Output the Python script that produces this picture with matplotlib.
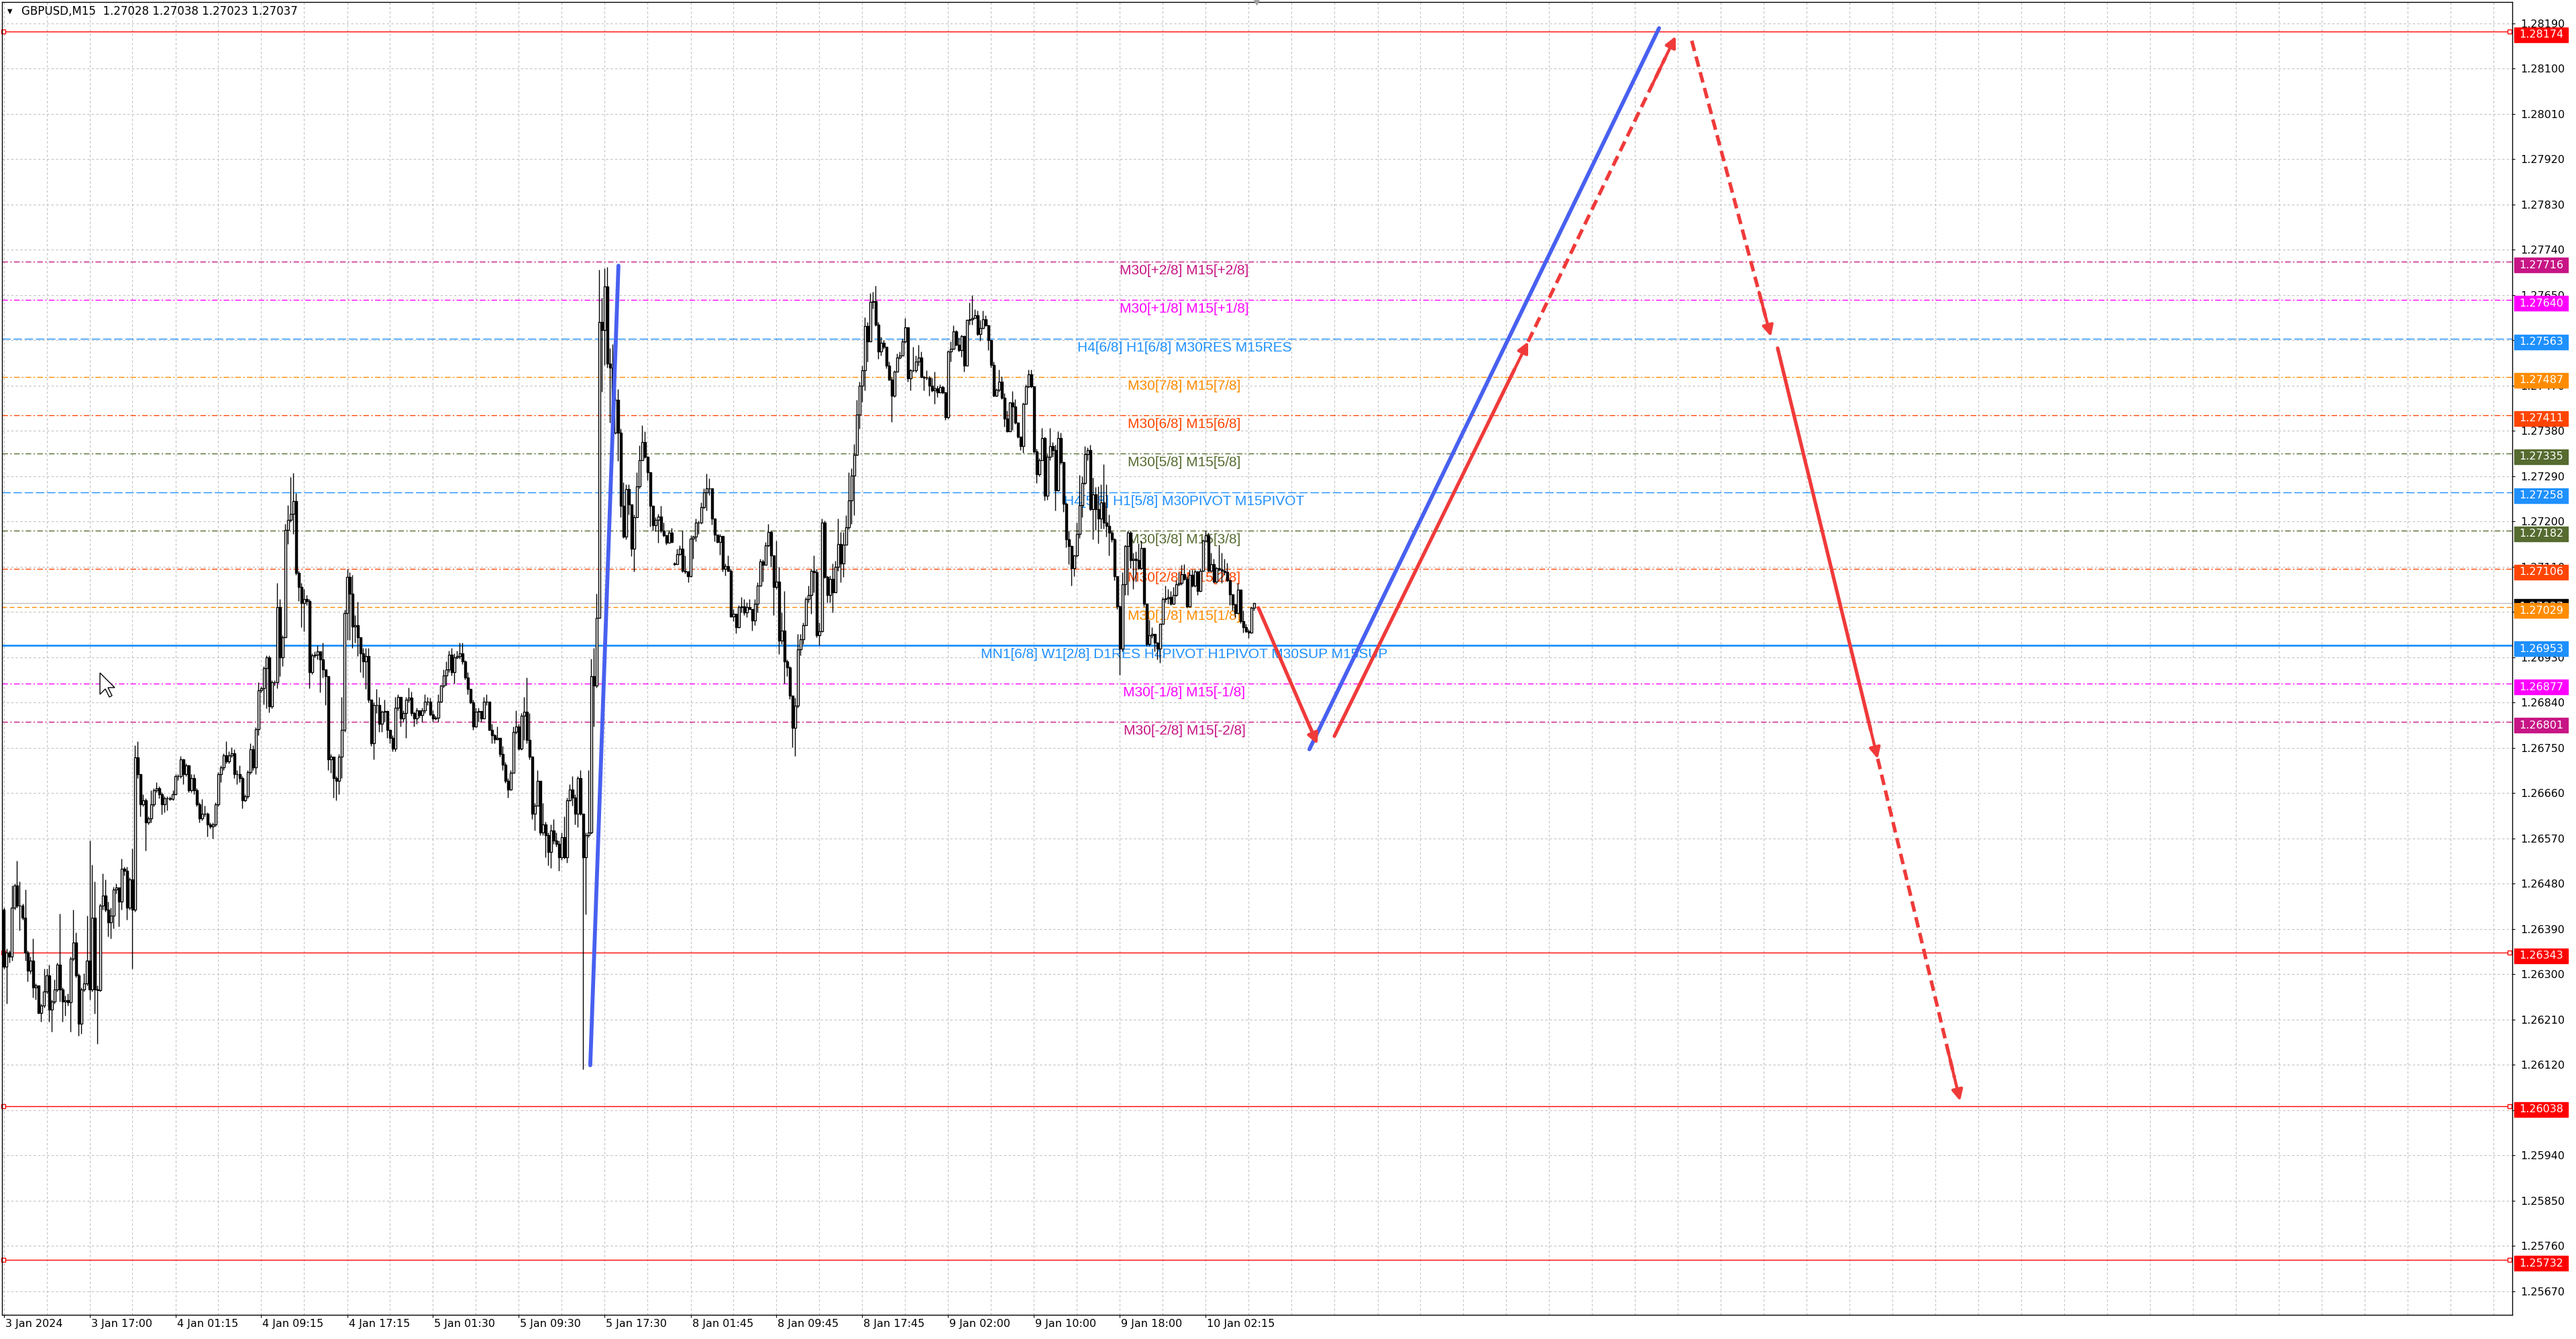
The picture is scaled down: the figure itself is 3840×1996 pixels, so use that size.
import numpy as np
import matplotlib
matplotlib.use('Agg')
import matplotlib.pyplot as plt
from matplotlib.path import Path
from matplotlib.patches import Polygon
from matplotlib.transforms import offset_copy, ScaledTranslation

# ---- GBPUSD M15 candles (bar 0 = 3 Jan 09:00), prices ----
closes = [
    1.26315, 1.26343, 1.26335, 1.26432, 1.26476, 1.26436, 1.26436, 1.26412, 1.26343, 1.26307,
    1.26327, 1.26274, 1.26277, 1.26223, 1.26238, 1.26266, 1.26298, 1.26230, 1.26246, 1.26270,
    1.26319, 1.26270, 1.26246, 1.26248, 1.26244, 1.26331, 1.26363, 1.26298, 1.26201, 1.26270,
    1.26282, 1.26327, 1.26270, 1.26412, 1.26270, 1.26268, 1.26436, 1.26456, 1.26428, 1.26403,
    1.26416, 1.26468, 1.26472, 1.26444, 1.26509, 1.26506, 1.26432, 1.26488, 1.26428, 1.26731,
    1.26698, 1.26638, 1.26646, 1.26601, 1.26610, 1.26638, 1.26666, 1.26670, 1.26658, 1.26638,
    1.26650, 1.26650, 1.26648, 1.26658, 1.26694, 1.26694, 1.26727, 1.26698, 1.26715, 1.26666,
    1.26690, 1.26666, 1.26638, 1.26610, 1.26619, 1.26619, 1.26597, 1.26593, 1.26597, 1.26638,
    1.26698, 1.26711, 1.26735, 1.26723, 1.26735, 1.26739, 1.26698, 1.26697, 1.26690, 1.26646,
    1.26654, 1.26702, 1.26747, 1.26711, 1.26787, 1.26864, 1.26868, 1.26908, 1.26929, 1.26832,
    1.26880, 1.26880, 1.27030, 1.26929, 1.26969, 1.27183, 1.27203, 1.27215, 1.27240, 1.27098,
    1.27070, 1.27038, 1.27046, 1.27042, 1.26900, 1.26933, 1.26935, 1.26941, 1.26925, 1.26905,
    1.26892, 1.26727, 1.26732, 1.26689, 1.26684, 1.26732, 1.26786, 1.27018, 1.27089, 1.27056,
    1.26991, 1.26994, 1.26970, 1.26937, 1.26921, 1.26932, 1.26846, 1.26759, 1.26835, 1.26835,
    1.26797, 1.26821, 1.26823, 1.26786, 1.26770, 1.26748, 1.26829, 1.26851, 1.26808, 1.26819,
    1.26846, 1.26849, 1.26819, 1.26808, 1.26824, 1.26815, 1.26824, 1.26842, 1.26842, 1.26816,
    1.26808, 1.26810, 1.26842, 1.26873, 1.26894, 1.26905, 1.26935, 1.26900, 1.26929, 1.26932,
    1.26937, 1.26921, 1.26889, 1.26867, 1.26840, 1.26792, 1.26821, 1.26823, 1.26808, 1.26842,
    1.26842, 1.26786, 1.26775, 1.26767, 1.26769, 1.26738, 1.26716, 1.26684, 1.26667, 1.26700,
    1.26781, 1.26792, 1.26748, 1.26813, 1.26821, 1.26765, 1.26732, 1.26619, 1.26635, 1.26684,
    1.26581, 1.26597, 1.26576, 1.26543, 1.26586, 1.26565, 1.26559, 1.26532, 1.26572, 1.26532,
    1.26646, 1.26667, 1.26651, 1.26619, 1.26689, 1.26619, 1.26532, 1.26576, 1.26581, 1.26892,
    1.26873, 1.27008, 1.27596, 1.27580, 1.27667, 1.27514, 1.27506, 1.27376, 1.27442, 1.27376,
    1.27231, 1.27169, 1.27264, 1.27233, 1.27146, 1.27208, 1.27269, 1.27322, 1.27358, 1.27328,
    1.27297, 1.27231, 1.27192, 1.27203, 1.27210, 1.27182, 1.27172, 1.27157, 1.27177, 1.27159,
    1.27115, 1.27135, 1.27145, 1.27102, 1.27100, 1.27091, 1.27165, 1.27169, 1.27198, 1.27198,
    1.27228, 1.27257, 1.27266, 1.27265, 1.27205, 1.27173, 1.27159, 1.27171, 1.27106, 1.27111,
    1.27102, 1.27011, 1.27016, 1.26990, 1.27029, 1.27031, 1.27019, 1.27029, 1.27026, 1.27003,
    1.27036, 1.27072, 1.27120, 1.27114, 1.27152, 1.27179, 1.27132, 1.27069, 1.27080, 1.26963,
    1.26983, 1.26921, 1.26910, 1.26854, 1.26789, 1.26834, 1.26946, 1.26966, 1.26993, 1.27046,
    1.27054, 1.27102, 1.27099, 1.26973, 1.26981, 1.27198, 1.27089, 1.27054, 1.27086, 1.27059,
    1.27109, 1.27155, 1.27116, 1.27153, 1.27188, 1.27242, 1.27291, 1.27332, 1.27412, 1.27470,
    1.27500, 1.27588, 1.27557, 1.27636, 1.27637, 1.27591, 1.27538, 1.27555, 1.27547, 1.27509,
    1.27482, 1.27450, 1.27498, 1.27525, 1.27530, 1.27558, 1.27586, 1.27484, 1.27500, 1.27500,
    1.27518, 1.27525, 1.27487, 1.27486, 1.27485, 1.27469, 1.27460, 1.27464, 1.27456, 1.27467,
    1.27456, 1.27407, 1.27537, 1.27543, 1.27578, 1.27551, 1.27540, 1.27568, 1.27509, 1.27600,
    1.27602, 1.27604, 1.27609, 1.27572, 1.27584, 1.27601, 1.27589, 1.27560, 1.27511, 1.27450,
    1.27461, 1.27477, 1.27445, 1.27404, 1.27379, 1.27436, 1.27428, 1.27396, 1.27368, 1.27350,
    1.27434, 1.27468, 1.27492, 1.27468, 1.27339, 1.27294, 1.27322, 1.27366, 1.27251, 1.27328,
    1.27349, 1.27341, 1.27261, 1.27366, 1.27317, 1.27235, 1.27164, 1.27151, 1.27107, 1.27132,
    1.27175, 1.27232, 1.27276, 1.27334, 1.27341, 1.27224, 1.27254, 1.27224, 1.27205, 1.27238,
    1.27197, 1.27191, 1.27178, 1.27164, 1.27091, 1.27031, 1.26947, 1.27075, 1.27151, 1.27178,
    1.27123, 1.27126, 1.27123, 1.27107, 1.27147, 1.27036, 1.26956, 1.26974, 1.26976, 1.26959,
    1.26947, 1.26996, 1.27045, 1.27047, 1.27050, 1.27036, 1.27053, 1.27075, 1.27077, 1.27095,
    1.27085, 1.27031, 1.27094, 1.27072, 1.27100, 1.27061, 1.27102, 1.27162, 1.27172, 1.27102,
    1.27115, 1.27080, 1.27107, 1.27104, 1.27102, 1.27099, 1.27083, 1.27055, 1.27035, 1.27017,
    1.27064, 1.27001, 1.26990, 1.26982, 1.26979, 1.27028, 1.27037,
]
highs = [
    1.26432, 1.26351, 1.26347, 1.26476, 1.26480, 1.26525, 1.26484, 1.26440, 1.26468, 1.26347,
    1.26335, 1.26371, 1.26282, 1.26278, 1.26242, 1.26311, 1.26311, 1.26319, 1.26250, 1.26290,
    1.26323, 1.26420, 1.26274, 1.26258, 1.26262, 1.26335, 1.26428, 1.26383, 1.26302, 1.26274,
    1.26302, 1.26416, 1.26565, 1.26517, 1.26484, 1.26278, 1.26440, 1.26500, 1.26488, 1.26444,
    1.26432, 1.26474, 1.26480, 1.26472, 1.26529, 1.26513, 1.26513, 1.26492, 1.26549, 1.26755,
    1.26763, 1.26698, 1.26658, 1.26650, 1.26614, 1.26666, 1.26670, 1.26682, 1.26674, 1.26662,
    1.26654, 1.26654, 1.26654, 1.26666, 1.26698, 1.26698, 1.26733, 1.26728, 1.26719, 1.26716,
    1.26698, 1.26698, 1.26670, 1.26642, 1.26648, 1.26635, 1.26622, 1.26601, 1.26601, 1.26642,
    1.26702, 1.26715, 1.26739, 1.26763, 1.26743, 1.26751, 1.26747, 1.26706, 1.26715, 1.26694,
    1.26658, 1.26706, 1.26759, 1.26755, 1.26791, 1.26880, 1.26872, 1.26912, 1.26933, 1.26933,
    1.26884, 1.26884, 1.27078, 1.27046, 1.26973, 1.27195, 1.27232, 1.27288, 1.27296, 1.27256,
    1.27102, 1.27078, 1.27066, 1.27054, 1.27046, 1.26937, 1.26941, 1.26953, 1.26941, 1.26959,
    1.26905, 1.26867, 1.26738, 1.26732, 1.26694, 1.26738, 1.26851, 1.27024, 1.27105, 1.27099,
    1.27094, 1.27013, 1.27040, 1.26970, 1.26948, 1.26948, 1.26948, 1.26846, 1.26840, 1.26867,
    1.26851, 1.26824, 1.26846, 1.26824, 1.26784, 1.26775, 1.26851, 1.26856, 1.26851, 1.26824,
    1.26851, 1.26869, 1.26862, 1.26821, 1.26829, 1.26821, 1.26829, 1.26856, 1.26851, 1.26849,
    1.26824, 1.26814, 1.26856, 1.26875, 1.26905, 1.26921, 1.26943, 1.26948, 1.26937, 1.26943,
    1.26959, 1.26959, 1.26924, 1.26900, 1.26867, 1.26846, 1.26829, 1.26829, 1.26819, 1.26851,
    1.26856, 1.26842, 1.26797, 1.26778, 1.26792, 1.26770, 1.26754, 1.26721, 1.26689, 1.26705,
    1.26792, 1.26824, 1.26797, 1.26819, 1.26851, 1.26889, 1.26819, 1.26734, 1.26640, 1.26705,
    1.26684, 1.26640, 1.26603, 1.26581, 1.26597, 1.26608, 1.26581, 1.26565, 1.26581, 1.26613,
    1.26651, 1.26678, 1.26694, 1.26657, 1.26694, 1.26705, 1.26619, 1.26581, 1.26705, 1.26927,
    1.26948, 1.27056, 1.27700, 1.27644, 1.27703, 1.27705, 1.27544, 1.27552, 1.27463, 1.27463,
    1.27384, 1.27277, 1.27274, 1.27274, 1.27233, 1.27213, 1.27297, 1.27351, 1.27391, 1.27379,
    1.27330, 1.27297, 1.27231, 1.27208, 1.27215, 1.27231, 1.27198, 1.27174, 1.27182, 1.27187,
    1.27119, 1.27145, 1.27152, 1.27182, 1.27132, 1.27102, 1.27172, 1.27172, 1.27205, 1.27202,
    1.27238, 1.27265, 1.27295, 1.27285, 1.27257, 1.27205, 1.27173, 1.27175, 1.27171, 1.27116,
    1.27132, 1.27106, 1.27026, 1.27016, 1.27033, 1.27049, 1.27046, 1.27039, 1.27046, 1.27025,
    1.27046, 1.27079, 1.27126, 1.27124, 1.27159, 1.27195, 1.27182, 1.27132, 1.27162, 1.27109,
    1.27019, 1.27062, 1.26925, 1.26912, 1.26854, 1.26850, 1.26976, 1.26976, 1.26999, 1.27049,
    1.27072, 1.27106, 1.27132, 1.27106, 1.26999, 1.27205, 1.27202, 1.27092, 1.27092, 1.27116,
    1.27122, 1.27205, 1.27179, 1.27179, 1.27212, 1.27298, 1.27305, 1.27354, 1.27441, 1.27477,
    1.27510, 1.27606, 1.27596, 1.27653, 1.27656, 1.27668, 1.27596, 1.27567, 1.27560, 1.27547,
    1.27517, 1.27487, 1.27500, 1.27533, 1.27537, 1.27563, 1.27604, 1.27586, 1.27503, 1.27547,
    1.27530, 1.27551, 1.27537, 1.27490, 1.27500, 1.27489, 1.27485, 1.27497, 1.27470, 1.27472,
    1.27469, 1.27458, 1.27540, 1.27557, 1.27590, 1.27580, 1.27565, 1.27571, 1.27570, 1.27602,
    1.27635, 1.27649, 1.27621, 1.27619, 1.27600, 1.27619, 1.27610, 1.27591, 1.27560, 1.27518,
    1.27464, 1.27501, 1.27488, 1.27455, 1.27420, 1.27437, 1.27459, 1.27443, 1.27396, 1.27368,
    1.27436, 1.27472, 1.27502, 1.27501, 1.27469, 1.27344, 1.27325, 1.27385, 1.27368, 1.27333,
    1.27385, 1.27357, 1.27352, 1.27379, 1.27376, 1.27319, 1.27238, 1.27181, 1.27152, 1.27134,
    1.27197, 1.27292, 1.27289, 1.27349, 1.27347, 1.27352, 1.27287, 1.27268, 1.27270, 1.27273,
    1.27314, 1.27273, 1.27213, 1.27181, 1.27167, 1.27091, 1.27034, 1.27099, 1.27153, 1.27181,
    1.27181, 1.27137, 1.27140, 1.27156, 1.27162, 1.27148, 1.27036, 1.27004, 1.26990, 1.26976,
    1.26960, 1.26998, 1.27050, 1.27072, 1.27066, 1.27061, 1.27069, 1.27083, 1.27099, 1.27113,
    1.27115, 1.27091, 1.27104, 1.27104, 1.27104, 1.27102, 1.27107, 1.27164, 1.27181, 1.27178,
    1.27137, 1.27126, 1.27110, 1.27153, 1.27137, 1.27126, 1.27118, 1.27084, 1.27055, 1.27036,
    1.27077, 1.27064, 1.27023, 1.26996, 1.26986, 1.27031, 1.27038,
]
lows = [
    1.26311, 1.26242, 1.26323, 1.26327, 1.26428, 1.26432, 1.26387, 1.26408, 1.26327, 1.26286,
    1.26302, 1.26254, 1.26250, 1.26222, 1.26206, 1.26234, 1.26262, 1.26206, 1.26185, 1.26242,
    1.26266, 1.26246, 1.26206, 1.26218, 1.26238, 1.26185, 1.26327, 1.26294, 1.26177, 1.26181,
    1.26266, 1.26278, 1.26250, 1.26266, 1.26222, 1.26161, 1.26266, 1.26428, 1.26424, 1.26375,
    1.26371, 1.26391, 1.26460, 1.26395, 1.26428, 1.26496, 1.26408, 1.26428, 1.26311, 1.26424,
    1.26690, 1.26614, 1.26634, 1.26545, 1.26597, 1.26601, 1.26634, 1.26662, 1.26650, 1.26618,
    1.26622, 1.26626, 1.26646, 1.26646, 1.26662, 1.26686, 1.26690, 1.26678, 1.26694, 1.26662,
    1.26662, 1.26658, 1.26634, 1.26601, 1.26605, 1.26614, 1.26573, 1.26589, 1.26569, 1.26593,
    1.26634, 1.26682, 1.26706, 1.26719, 1.26719, 1.26731, 1.26690, 1.26678, 1.26682, 1.26630,
    1.26643, 1.26650, 1.26698, 1.26706, 1.26698, 1.26775, 1.26860, 1.26836, 1.26828, 1.26820,
    1.26828, 1.26874, 1.26868, 1.26892, 1.26912, 1.26989, 1.27155, 1.27199, 1.27175, 1.27094,
    1.27042, 1.26989, 1.26981, 1.27034, 1.26868, 1.26896, 1.26929, 1.26925, 1.26860, 1.26889,
    1.26835, 1.26705, 1.26700, 1.26651, 1.26646, 1.26657, 1.26689, 1.26781, 1.26964, 1.26964,
    1.26948, 1.26959, 1.26932, 1.26900, 1.26889, 1.26867, 1.26840, 1.26754, 1.26727, 1.26819,
    1.26781, 1.26781, 1.26802, 1.26770, 1.26759, 1.26743, 1.26743, 1.26824, 1.26792, 1.26802,
    1.26770, 1.26840, 1.26813, 1.26792, 1.26797, 1.26810, 1.26802, 1.26819, 1.26835, 1.26813,
    1.26802, 1.26806, 1.26802, 1.26840, 1.26870, 1.26873, 1.26900, 1.26894, 1.26878, 1.26927,
    1.26927, 1.26916, 1.26886, 1.26856, 1.26838, 1.26786, 1.26791, 1.26802, 1.26802, 1.26808,
    1.26835, 1.26784, 1.26759, 1.26759, 1.26765, 1.26732, 1.26705, 1.26680, 1.26651, 1.26665,
    1.26700, 1.26778, 1.26745, 1.26745, 1.26765, 1.26759, 1.26727, 1.26608, 1.26586, 1.26635,
    1.26576, 1.26576, 1.26532, 1.26516, 1.26511, 1.26559, 1.26554, 1.26505, 1.26527, 1.26529,
    1.26522, 1.26644, 1.26635, 1.26597, 1.26592, 1.26616, 1.26111, 1.26419, 1.26572, 1.26579,
    1.26792, 1.26870, 1.27008, 1.27458, 1.27511, 1.27506, 1.27396, 1.27320, 1.27374, 1.27320,
    1.27208, 1.27167, 1.27164, 1.27213, 1.27131, 1.27100, 1.27208, 1.27266, 1.27322, 1.27325,
    1.27282, 1.27190, 1.27182, 1.27180, 1.27157, 1.27177, 1.27169, 1.27154, 1.27157, 1.27157,
    1.27112, 1.27116, 1.27132, 1.27099, 1.27096, 1.27079, 1.27089, 1.27126, 1.27160, 1.27175,
    1.27195, 1.27225, 1.27222, 1.27252, 1.27193, 1.27160, 1.27157, 1.27133, 1.27100, 1.27092,
    1.27100, 1.27009, 1.27001, 1.26978, 1.26988, 1.27019, 1.27013, 1.27009, 1.27025, 1.26983,
    1.26993, 1.27019, 1.27071, 1.27080, 1.27116, 1.27149, 1.27109, 1.27013, 1.27066, 1.26936,
    1.26956, 1.26877, 1.26892, 1.26847, 1.26751, 1.26734, 1.26830, 1.26933, 1.26956, 1.26993,
    1.27039, 1.27016, 1.27059, 1.26970, 1.26953, 1.26980, 1.27087, 1.27039, 1.27039, 1.27019,
    1.27059, 1.27102, 1.27079, 1.27089, 1.27159, 1.27184, 1.27195, 1.27212, 1.27331, 1.27384,
    1.27437, 1.27460, 1.27517, 1.27557, 1.27623, 1.27588, 1.27523, 1.27530, 1.27543, 1.27504,
    1.27480, 1.27397, 1.27447, 1.27497, 1.27523, 1.27529, 1.27555, 1.27478, 1.27460, 1.27497,
    1.27496, 1.27510, 1.27485, 1.27460, 1.27482, 1.27450, 1.27457, 1.27434, 1.27447, 1.27460,
    1.27454, 1.27401, 1.27404, 1.27518, 1.27542, 1.27550, 1.27538, 1.27527, 1.27497, 1.27510,
    1.27591, 1.27591, 1.27605, 1.27570, 1.27559, 1.27583, 1.27588, 1.27540, 1.27506, 1.27448,
    1.27448, 1.27458, 1.27443, 1.27388, 1.27378, 1.27379, 1.27382, 1.27393, 1.27366, 1.27341,
    1.27336, 1.27434, 1.27466, 1.27466, 1.27333, 1.27276, 1.27289, 1.27322, 1.27242, 1.27243,
    1.27322, 1.27328, 1.27221, 1.27260, 1.27314, 1.27219, 1.27148, 1.27115, 1.27072, 1.27091,
    1.27129, 1.27167, 1.27208, 1.27273, 1.27322, 1.27221, 1.27164, 1.27183, 1.27156, 1.27186,
    1.27186, 1.27170, 1.27132, 1.27159, 1.27083, 1.27025, 1.26895, 1.26941, 1.27053, 1.27053,
    1.27107, 1.27066, 1.27080, 1.27104, 1.27104, 1.27031, 1.26952, 1.26952, 1.26968, 1.26941,
    1.26925, 1.26919, 1.26996, 1.27039, 1.27036, 1.27034, 1.27035, 1.27051, 1.27072, 1.27074,
    1.27083, 1.27028, 1.27029, 1.27069, 1.27069, 1.27054, 1.27060, 1.27100, 1.27159, 1.27100,
    1.27100, 1.27077, 1.27077, 1.27102, 1.27077, 1.27094, 1.27080, 1.27034, 1.27023, 1.27009,
    1.27016, 1.26998, 1.26979, 1.26979, 1.26968, 1.26978, 1.27023,
]
# opens equal the previous close except where a session starts
session_opens = {0: 1.26428, 250: 1.27116}

date_labels = ["3 Jan 2024", "3 Jan 17:00", "4 Jan 01:15", "4 Jan 09:15", "4 Jan 17:15",
               "5 Jan 01:30", "5 Jan 09:30", "5 Jan 17:30", "8 Jan 01:45", "8 Jan 09:45",
               "8 Jan 17:45", "9 Jan 02:00", "9 Jan 10:00", "9 Jan 18:00", "10 Jan 02:15"]
bars_per_label = 32

# Murrey math / pivot levels
level_prices = [1.28174, 1.27716, 1.27640, 1.27563, 1.27487, 1.27411, 1.27335, 1.27258,
                1.27182, 1.27106, 1.27029, 1.26953, 1.26877, 1.26801, 1.26343, 1.26038, 1.25732]
level_texts = ["", "M30[+2/8] M15[+2/8]", "M30[+1/8] M15[+1/8]", "H4[6/8] H1[6/8] M30RES M15RES",
               "M30[7/8] M15[7/8]", "M30[6/8] M15[6/8]", "M30[5/8] M15[5/8]",
               "H4[5/8] H1[5/8] M30PIVOT M15PIVOT", "M30[3/8] M15[3/8]", "M30[2/8] M15[2/8]",
               "M30[1/8] M15[1/8]", "MN1[6/8] W1[2/8] D1RES H4PIVOT H1PIVOT M30SUP M15SUP",
               "M30[-1/8] M15[-1/8]", "M30[-2/8] M15[-2/8]", "", "", ""]
bid_price = 1.27037
title = "GBPUSD,M15  1.27028 1.27038 1.27023 1.27037"

# hand drawn forecast (bar index, price)
blue_lines = [[(218.6, 1.26119), (229.1, 1.27708)],
              [(486.6, 1.26747), (616.9, 1.28180)]]
red_arrows = [[(467.6, 1.27028), (489.6, 1.26757), '-'],
              [(495.9, 1.26773), (568.1, 1.27557), '-'],
              [(568.1, 1.27557), (623.1, 1.28164), '--'],
              [(629.1, 1.28155), (658.6, 1.27567), '--'],
              [(661.1, 1.27544), (698.4, 1.26728), '-'],
              [(698.4, 1.26728), (729.1, 1.26048), '--']]

# ---- styles ----
VR, MG, DB, DO, OR, OG, RD = '#C71585', '#FF00FF', '#1E90FF', '#FF8C00', '#FF4500', '#556B2F', '#FF0000'
level_colors = [RD, VR, MG, DB, DO, OR, OG, DB, OG, OR, DO, DB, MG, VR, RD, RD, RD]
DASHDOT = (0, (6, 2.5, 1.5, 2.5))
DASH = (0, (9, 3))
level_styles = ['-', DASHDOT, DASHDOT, DASH, DASHDOT, DASHDOT, DASHDOT, DASH, DASHDOT,
                DASHDOT, (0, (5, 3)), '-', DASHDOT, DASHDOT, '-', '-', '-']

W, H = 3840, 1996
fig = plt.figure(figsize=(W / 100, H / 100), dpi=100)
fig.patch.set_facecolor('white')
ax = fig.add_axes([3 / W, 36 / H, 3742 / W, 1957 / H])
ax.set_xlim(-0.625, 934.875)
ax.set_ylim(1.25623, 1.28232)

n = len(closes)
x = np.arange(n)
c = np.array(closes)
hi = np.array(highs)
lo = np.array(lows)
o = np.concatenate([[c[0]], c[:-1]])
for k, v in session_opens.items():
    o[k] = v
up = c >= o

# grid
price_ticks = np.round(1.28190 - 0.0009 * np.arange(29), 5)
ax.set_yticks(price_ticks)
ax.set_yticklabels(['%.5f' % p for p in price_ticks])
ax.set_xticks(np.arange(len(date_labels)) * bars_per_label)
ax.set_xticklabels(date_labels)
ax.set_xticks(np.arange(0, 935, 16), minor=True)
ax.grid(True, which='both', color='#C0C0C0', lw=0.8, ls=(0, (3, 3)), zorder=0)
ax.set_axisbelow(True)

ax.yaxis.tick_right()
ax.tick_params(axis='y', length=3, width=0.8, pad=5.5, labelsize=11.5)
ax.tick_params(axis='x', which='major', length=3, width=0.8, pad=1.5, labelsize=11.5)
ax.tick_params(axis='x', which='minor', length=0)
for lbl in ax.get_xticklabels():
    lbl.set_ha('left')
    lbl.set_transform(lbl.get_transform() + ScaledTranslation(2 / 100, 0, fig.dpi_scale_trans))
for sp in ax.spines.values():
    sp.set_color('black')
    sp.set_linewidth(1.0)

# levels
for p, col, st in zip(level_prices, level_colors, level_styles):
    lw = 2.0 if (st == '-' and col == DB) else 1.0
    ax.axhline(p, color=col, lw=lw, ls=st, zorder=1.5)
    if col == RD:
        ax.plot([-0.2, 933.9], [p, p], ls='none', marker='s', ms=4, mfc='white', mec=RD,
                mew=1.0, zorder=1.6, clip_on=False)
ax.axhline(bid_price, color='#C0C0C0', lw=1.0, zorder=1.4)

for p, col, txt in zip(level_prices, level_colors, level_texts):
    if txt:
        ax.annotate(txt, xy=(440, p), xytext=(0, -19), textcoords='offset pixels',
                    ha='center', va='baseline', color=col, fontsize=15,
                    family='Liberation Sans', zorder=2)

# candles
ax.vlines(x, lo, hi, color='black', lw=1.0, zorder=4)
ax.bar(x[up], (c - o)[up], bottom=o[up], width=0.62, color='white', edgecolor='black',
       lw=1.0, zorder=5)
ax.bar(x[~up], (c - o)[~up], bottom=o[~up], width=0.62, color='black', edgecolor='black',
       lw=1.0, zorder=5)

# forecast drawings
for (x0, y0), (x1, y1) in blue_lines:
    ax.plot([x0, x1], [y0, y1], color='#4860F0', lw=4.2, solid_capstyle='round', zorder=7)
for (x0, y0), (x1, y1), st in red_arrows:
    ls = (0, (3, 1.6)) if st == '--' else '-'
    ax.plot([x0, x0 + 0.93 * (x1 - x0)], [y0, y0 + 0.93 * (y1 - y0)], color='#F03A3A',
            lw=3.8, ls=ls, solid_capstyle='round', zorder=7)
    ax.annotate('', xy=(x1, y1), xytext=(x0 + 0.85 * (x1 - x0), y0 + 0.85 * (y1 - y0)),
                arrowprops=dict(arrowstyle='-|>', color='#F03A3A', lw=3.2, mutation_scale=24,
                                shrinkA=0, shrinkB=0), zorder=7)

# price labels on right axis
box = Path([(-40, -11), (40, -11), (40, 11), (-40, 11), (-40, -11)],
           [Path.MOVETO, Path.LINETO, Path.LINETO, Path.LINETO, Path.CLOSEPOLY])
btrans = offset_copy(ax.get_yaxis_transform(), fig=fig, x=43, y=-5, units='dots')


def price_box(p, col, z):
    ax.plot([1.0], [p], marker=box, ms=57.6, color=col, mec=col, transform=btrans,
            clip_on=False, zorder=z)
    ax.annotate('%.5f' % p, xy=(1.0, p), xycoords=ax.get_yaxis_transform(), xytext=(43, -5),
                textcoords='offset pixels', ha='center', va='center', color='white',
                fontsize=11.5, zorder=z + 0.1, annotation_clip=False)


price_box(bid_price, 'black', 8)
for i, (p, col) in enumerate(zip(level_prices, level_colors)):
    price_box(p, col, 9 + i * 0.2)

# chart shift marker
ax.plot([466.9], [1.0], marker='v', ms=6, color='#A0A0A0', transform=ax.get_xaxis_transform(),
        clip_on=False, zorder=9)

# title
fig.text(11 / W, 1 - 17 / H, '\u25BC', fontsize=7, va='center', color='black')
fig.text(32 / W, 1 - 17 / H, title, fontsize=12, va='center', color='black')

# mouse pointer
cur = [(0, 0), (0, 16), (4, 12), (7, 18), (9, 17), (6, 11), (11, 11)]
pts = [((149 + 2 * px) / W, 1 - (1003 + 2 * py) / H) for px, py in cur]
fig.add_artist(Polygon(pts, closed=True, fc='white', ec='black', lw=1.0,
                       transform=fig.transFigure, zorder=20))

fig.savefig('out.png', dpi=100, facecolor='white')
